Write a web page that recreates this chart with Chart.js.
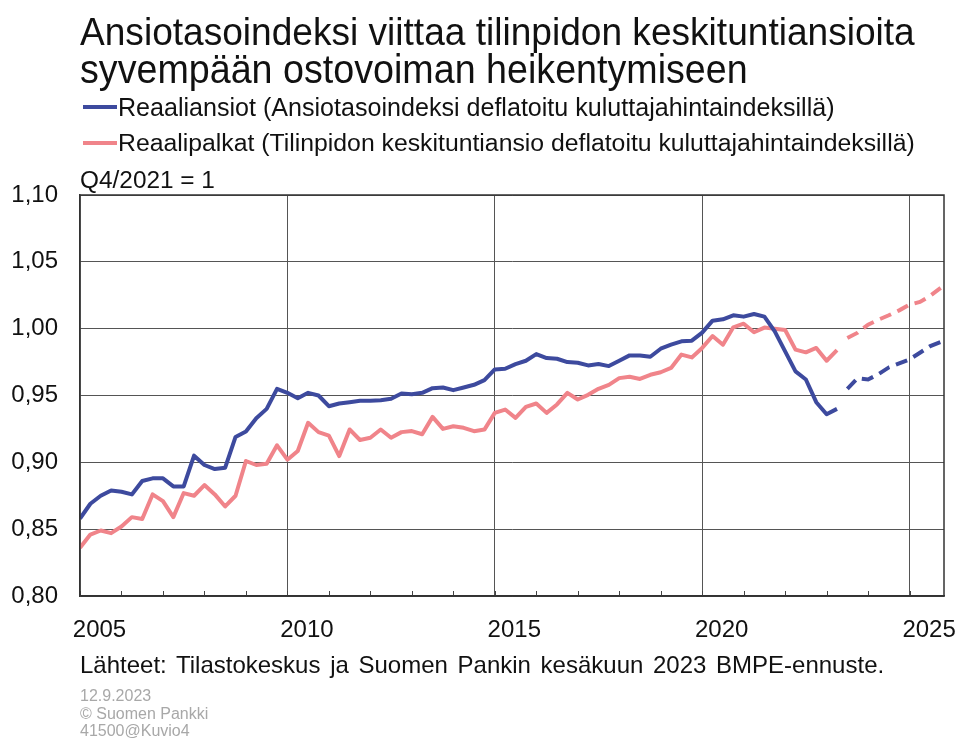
<!DOCTYPE html>
<html>
<head>
<meta charset="utf-8">
<script src="https://cdn.jsdelivr.net/npm/chart.js@4.4.0/dist/chart.umd.min.js"></script>
<style>
html,body{margin:0;padding:0;background:#fff;}
#wrap{position:relative;width:962px;height:738px;overflow:hidden;font-family:"Liberation Sans",Arial,sans-serif;color:#111;}
#c{position:absolute;left:0;top:0;}
.t{position:absolute;white-space:nowrap;line-height:1;}
.ttl{transform:scaleY(1.07);transform-origin:left bottom;}
.mk{position:absolute;height:4px;width:34px;left:83px;}
.g{color:#a8a8a8;font-size:16px;left:80px;}
</style>
</head>
<body>
<div id="wrap">
<canvas id="c" width="962" height="738"></canvas>
<div class="t fit ttl" data-w="835" data-fs="37" style="left:80px;top:14px;">Ansiotasoindeksi viittaa tilinpidon keskituntiansioita</div>
<div class="t fit ttl" data-w="668" data-fs="37" style="left:80px;top:53px;">syvempään ostovoiman heikentymiseen</div>
<div class="mk" style="top:105px;background:#3D4A9E;"></div>
<div class="t fit" data-w="717" data-fs="25" style="left:118px;top:95px;">Reaaliansiot (Ansiotasoindeksi deflatoitu kuluttajahintaindeksillä)</div>
<div class="mk" style="top:141px;background:#F0848A;"></div>
<div class="t fit" data-w="797" data-fs="25" style="left:118px;top:131px;">Reaalipalkat (Tilinpidon keskituntiansio deflatoitu kuluttajahintaindeksillä)</div>
<div class="t fit" data-w="135" data-fs="24" style="left:80px;top:168px;">Q4/2021 = 1</div>
<div class="t fit" data-w="805" data-fs="23" style="left:80px;top:654px;word-spacing:3px;">Lähteet: Tilastokeskus ja Suomen Pankin kesäkuun 2023 BMPE-ennuste.</div>
<div class="t g" style="top:688px;">12.9.2023</div>
<div class="t g" style="top:706px;">© Suomen Pankki</div>
<div class="t g" style="top:723px;">41500@Kuvio4</div>
</div>
<script>
// ---- data (quarterly, first point = 2005 Q1) ----
const firstYear = 2005;
const yearTicks = [2005,2006,2007,2008,2009,2010,2011,2012,2013,2014,2015,2016,2017,2018,2019,2020,2021,2022,2023,2024,2025];
const xTickLabels = ['2005','2010','2015','2020','2025'];
const yTickValues = [0.80,0.85,0.90,0.95,1.00,1.05,1.10];

// Reaaliansiot, actual 2005Q1..2023Q2
const reaaliansiot = [
 0.858,0.869,0.875,0.879, 0.878,0.876,0.886,0.888, 0.888,0.882,0.882,0.905, 0.898,0.895,0.896,0.919,
 0.923,0.933,0.940,0.955, 0.952,0.948,0.952,0.950, 0.942,0.944,0.945,0.946, 0.946,0.9465,0.9475,0.9515,
 0.951,0.952,0.9555,0.956, 0.954,0.956,0.958,0.9615, 0.9695,0.970,0.9735,0.976, 0.981,0.978,0.9775,0.975,
 0.9745,0.9725,0.9735,0.972, 0.976,0.980,0.980,0.979, 0.985,0.988,0.9905,0.991, 0.997,1.006,1.007,1.010,
 1.009,1.011,1.009,0.998, 0.983,0.968,0.962,0.945, 0.936,0.940
];
// Reaaliansiot, forecast 2023Q3..2025Q4
const reaaliansiotEnnuste = [0.955,0.963,0.962,0.966,0.971,0.974,0.977,0.982,0.987,0.990];

// Reaalipalkat, actual 2005Q1..2023Q2
const reaalipalkat = [
 0.836,0.846,0.849,0.847, 0.852,0.859,0.8576,0.876, 0.871,0.859,0.877,0.875, 0.883,0.876,0.867,0.875,
 0.901,0.898,0.899,0.9127, 0.902,0.9085,0.9296,0.9226, 0.920,0.9047,0.9246,0.9167, 0.9184,0.9246,0.9184,0.9226,
 0.9234,0.921,0.934,0.925, 0.927,0.9258,0.9233,0.9245, 0.937,0.9395,0.9333,0.9415, 0.944,0.937,0.9433,0.952,
 0.947,0.9505,0.955,0.958, 0.963,0.964,0.9624,0.9655, 0.9674,0.9706,0.9806,0.9785, 0.9856,0.9945,0.988,1.001,
 1.0037,0.9973,1.0008,1.000, 0.999,0.9843,0.9823,0.9856, 0.976,0.984
];
// Reaalipalkat, forecast 2023Q3..2025Q4
const reaalipalkatEnnuste = [0.993,0.997,1.003,1.0067,1.010,1.0137,1.018,1.020,1.0246,1.0305];

const BLUE = '#3D4A9E';
const PINK = '#F0848A';

function toPoints(values, startIndex){
  return values.map((v,i)=>({x: firstYear + (startIndex+i)/4, y: v}));
}

// fit text widths
document.querySelectorAll('.fit').forEach(el=>{
  const fs = parseFloat(el.dataset.fs);
  el.style.fontSize = fs+'px';
  const w = el.getBoundingClientRect().width;
  const target = parseFloat(el.dataset.w);
  const nfs = fs*target/w;
  el.style.fontSize = nfs.toFixed(2)+'px';
  const top = parseFloat(el.style.top);
  el.style.top = (top + (fs-nfs)*0.846).toFixed(1)+'px';
});

const frame = {
  id:'frame',
  beforeDatasetsDraw(chart){
    const {ctx, chartArea:a, scales:{x}} = chart;
    ctx.save();
    ctx.strokeStyle = '#444';
    ctx.lineWidth = 1;
    yearTicks.forEach(yr=>{
      const px = Math.round(x.getPixelForValue(yr))+0.5;
      ctx.beginPath(); ctx.moveTo(px,a.bottom); ctx.lineTo(px,a.bottom-5); ctx.stroke();
    });
    ctx.restore();
  },
  afterDraw(chart){
    const {ctx, chartArea:a} = chart;
    ctx.save();
    ctx.strokeStyle = '#333';
    ctx.lineWidth = 1.5;
    ctx.strokeRect(a.left, a.top, a.right-a.left, a.bottom-a.top);
    ctx.restore();
  }
};

new Chart(document.getElementById('c'), {
  type:'line',
  data:{
    datasets:[
      {label:'Reaaliansiot', data: toPoints(reaaliansiot,0), borderColor:BLUE, borderWidth:4, pointRadius:0, borderJoinStyle:'round', tension:0},
      {label:'Reaaliansiot ennuste', data: toPoints(reaaliansiotEnnuste, reaaliansiot.length), borderColor:BLUE, borderWidth:4, pointRadius:0, borderDash:[12,7], tension:0},
      {label:'Reaalipalkat', data: toPoints(reaalipalkat,0), borderColor:PINK, borderWidth:4, pointRadius:0, borderJoinStyle:'round', tension:0},
      {label:'Reaalipalkat ennuste', data: toPoints(reaalipalkatEnnuste, reaalipalkat.length), borderColor:PINK, borderWidth:4, pointRadius:0, borderDash:[12,7], tension:0}
    ]
  },
  options:{
    responsive:false,
    animation:false,
    events:[],
    layout:{padding:{top:195,right:18,left:0,bottom:0}},
    plugins:{legend:{display:false}, tooltip:{enabled:false}, title:{display:false}},
    scales:{
      x:{
        type:'linear', min:2005, max:2025.83,
        afterBuildTicks(scale){ scale.ticks = yearTicks.map(v=>({value:v})); },
        afterFit(scale){ scale.height = 142; },
        grid:{
          drawTicks:false,
          color(ctx){ return (ctx.tick && ctx.tick.value % 5 === 0 && ctx.tick.value !== 2005) ? '#555' : 'rgba(0,0,0,0)'; },
          lineWidth:1
        },
        border:{display:true, color:'#333', width:1.5},
        ticks:{
          autoSkip:false, maxRotation:0, padding:20, labelOffset:19.5,
          color:'#111', font:{family:'"Liberation Sans", Arial, sans-serif', size:24},
          callback(v){ const s = String(v); return xTickLabels.includes(s) ? s : ''; }
        }
      },
      y:{
        min:0.80, max:1.10,
        afterBuildTicks(scale){ scale.ticks = yTickValues.map(v=>({value:v})); },
        afterFit(scale){ scale.width = 80; },
        grid:{drawTicks:false, color:'#555', lineWidth:1},
        border:{display:true, color:'#333', width:1.5},
        ticks:{
          padding:22, color:'#111', font:{family:'"Liberation Sans", Arial, sans-serif', size:24},
          callback(v){ return Number(v).toFixed(2).replace('.',','); }
        }
      }
    }
  },
  plugins:[frame]
});
</script>
</body>
</html>
